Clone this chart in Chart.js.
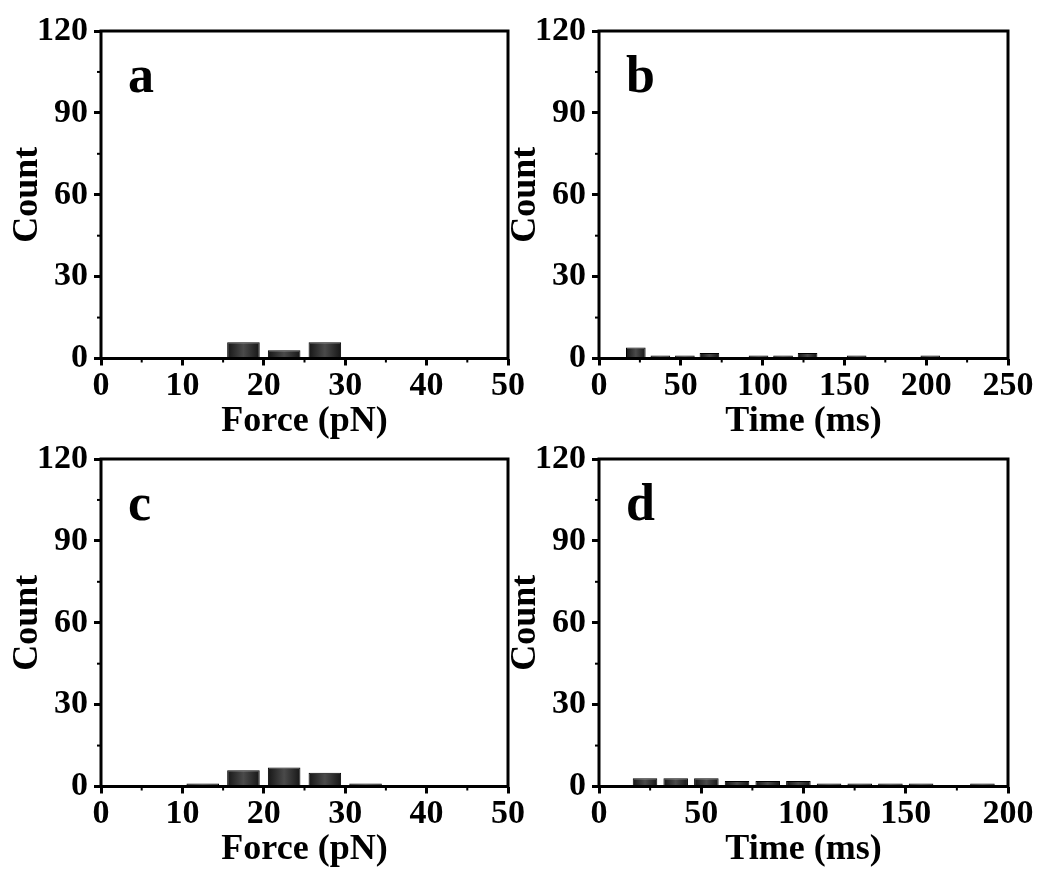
<!DOCTYPE html>
<html>
<head>
<meta charset="utf-8">
<script src="https://cdn.jsdelivr.net/npm/chart.js@4.4.0/dist/chart.umd.min.js"></script>
<style>
    html, body { margin: 0; padding: 0; background: #fff; }
    #wrap { position: relative; width: 1039px; height: 874px; }
    #wrap canvas { position: absolute; left: 0; top: 0; }
</style>
</head>
<body>
<div id="wrap">
    <canvas id="chartA" width="1039" height="874"></canvas>
    <canvas id="chartB" width="1039" height="874"></canvas>
    <canvas id="chartC" width="1039" height="874"></canvas>
    <canvas id="chartD" width="1039" height="874"></canvas>
</div>
<script>
// Histogram bins (bin centres) and counts
const forceBins = [2.5, 7.5, 12.5, 17.5, 22.5, 27.5, 32.5, 37.5, 42.5, 47.5];
const countsA   = [null, null, null, 6, 3, 6, null, null, null, null];
const countsC   = [null, null, 0, 6, 7, 5, 0, null, null, null];

const timeBinsB = [7.5, 22.5, 37.5, 52.5, 67.5, 82.5, 97.5, 112.5, 127.5, 142.5, 157.5, 172.5, 187.5, 202.5, 217.5, 232.5, 247.5];
const countsB   = [null, 4, 0, 0, 2, null, 0, 0, 2, null, 0, null, null, 0, null, null, null];

const timeBinsD = [7.5, 22.5, 37.5, 52.5, 67.5, 82.5, 97.5, 112.5, 127.5, 142.5, 157.5, 172.5, 187.5];
const countsD   = [null, 3, 3, 3, 2, 2, 2, 0, 0, 0, 0, null, 0];

// Tick labels
const countTicks = [0, 30, 60, 90, 120];
const forceTicks = [0, 10, 20, 30, 40, 50];
const timeTicksB = [0, 50, 100, 150, 200, 250];
const timeTicksD = [0, 50, 100, 150, 200];

Chart.defaults.font.family = '"Liberation Serif", "Times New Roman", serif';
Chart.defaults.font.weight = 'bold';
Chart.defaults.color = '#000';

// marco, ticks menores y letra del panel
const framePlugin = {
    id: 'frame',
    afterDraw(chart, args, opts) {
        const { ctx, chartArea: a, scales } = chart;
        ctx.save();
        ctx.strokeStyle = '#000';
        ctx.lineWidth = 3;
        ctx.strokeRect(a.left, a.top, a.right - a.left, a.bottom - a.top);

        ctx.lineWidth = 2;
        for (let i = 0; i < opts.xTicks.length - 1; i++) {
            const px = scales.x.getPixelForValue((opts.xTicks[i] + opts.xTicks[i + 1]) / 2);
            ctx.beginPath();
            ctx.moveTo(px, a.bottom);
            ctx.lineTo(px, a.bottom + 4);
            ctx.stroke();
        }
        for (let i = 0; i < countTicks.length - 1; i++) {
            const py = scales.y.getPixelForValue((countTicks[i] + countTicks[i + 1]) / 2);
            ctx.beginPath();
            ctx.moveTo(a.left, py);
            ctx.lineTo(a.left - 4, py);
            ctx.stroke();
        }

        ctx.fillStyle = '#000';
        ctx.font = 'bold 52px "Liberation Serif"';
        ctx.textBaseline = 'alphabetic';
        ctx.fillText(opts.letter, a.left + 27, a.top + 61);
        ctx.restore();
    }
};

function makeFill(binWidth) {
    return function (context) {
        const chart = context.chart;
        const xs = chart.scales.x;
        if (!xs || !context.raw || context.raw.y == null) return '#2e2e2e';
        const x0 = xs.getPixelForValue(context.raw.x - binWidth * 0.4);
        const x1 = xs.getPixelForValue(context.raw.x + binWidth * 0.4);
        if (!isFinite(x0) || !isFinite(x1)) return '#2e2e2e';
        const g = chart.ctx.createLinearGradient(x0, 0, x1, 0);
        g.addColorStop(0, '#161616');
        g.addColorStop(0.5, '#4a4a4a');
        g.addColorStop(1, '#161616');
        return g;
    };
}

function buildChart(id, opts) {
    const points = opts.bins.map((x, i) => ({ x: x, y: opts.counts[i] }));
    const ticks = opts.xTicks;
    return new Chart(document.getElementById(id), {
        type: 'bar',
        data: {
            datasets: [{
                data: points,
                backgroundColor: makeFill(opts.binWidth),
                borderColor: '#000',
                borderWidth: 1,
                borderSkipped: 'start',
                barPercentage: 0.8,
                categoryPercentage: 1,
                minBarLength: 3
            }]
        },
        options: {
            responsive: false,
            animation: false,
            devicePixelRatio: 1,
            layout: { padding: opts.padding },
            plugins: {
                legend: { display: false },
                tooltip: { enabled: false },
                frame: { letter: opts.letter, xTicks: ticks }
            },
            scales: {
                x: {
                    type: 'linear',
                    offset: false,
                    min: ticks[0],
                    max: ticks[ticks.length - 1],
                    afterBuildTicks: (s) => { s.ticks = ticks.map(v => ({ value: v })); },
                    afterFit: (s) => { s.height = 85; },
                    border: { display: false },
                    grid: {
                        offset: false,
                        drawOnChartArea: false,
                        drawTicks: true,
                        tickLength: 7,
                        tickWidth: 3,
                        tickColor: '#000'
                    },
                    ticks: { padding: 0, maxRotation: 0, font: { size: 34, weight: 'bold' } },
                    title: {
                        display: true,
                        text: opts.xTitle,
                        padding: 0,
                        font: { size: 36, weight: 'bold' }
                    }
                },
                y: {
                    min: 0,
                    max: 120,
                    afterBuildTicks: (s) => { s.ticks = countTicks.map(v => ({ value: v })); },
                    afterFit: (s) => { s.width = 101; },
                    border: { display: false },
                    grid: {
                        drawOnChartArea: false,
                        drawTicks: true,
                        tickLength: 7,
                        tickWidth: 3,
                        tickColor: '#000'
                    },
                    ticks: { padding: 6, font: { size: 34, weight: 'bold' } },
                    title: {
                        display: true,
                        text: 'Count',
                        padding: { top: 6, bottom: 0 },
                        font: { size: 36, weight: 'bold' }
                    }
                }
            }
        },
        plugins: [framePlugin]
    });
}

buildChart('chartA', {
    bins: forceBins, counts: countsA, binWidth: 5, xTicks: forceTicks,
    xTitle: 'Force (pN)', letter: 'a',
    padding: { left: 0, top: 31, right: 531, bottom: 430.5 }
});
buildChart('chartB', {
    bins: timeBinsB, counts: countsB, binWidth: 15, xTicks: timeTicksB,
    xTitle: 'Time (ms)', letter: 'b',
    padding: { left: 498, top: 31, right: 31, bottom: 430.5 }
});
buildChart('chartC', {
    bins: forceBins, counts: countsC, binWidth: 5, xTicks: forceTicks,
    xTitle: 'Force (pN)', letter: 'c',
    padding: { left: 0, top: 459, right: 531, bottom: 2.5 }
});
buildChart('chartD', {
    bins: timeBinsD, counts: countsD, binWidth: 15, xTicks: timeTicksD,
    xTitle: 'Time (ms)', letter: 'd',
    padding: { left: 498, top: 459, right: 31, bottom: 2.5 }
});
</script>
</body>
</html>
